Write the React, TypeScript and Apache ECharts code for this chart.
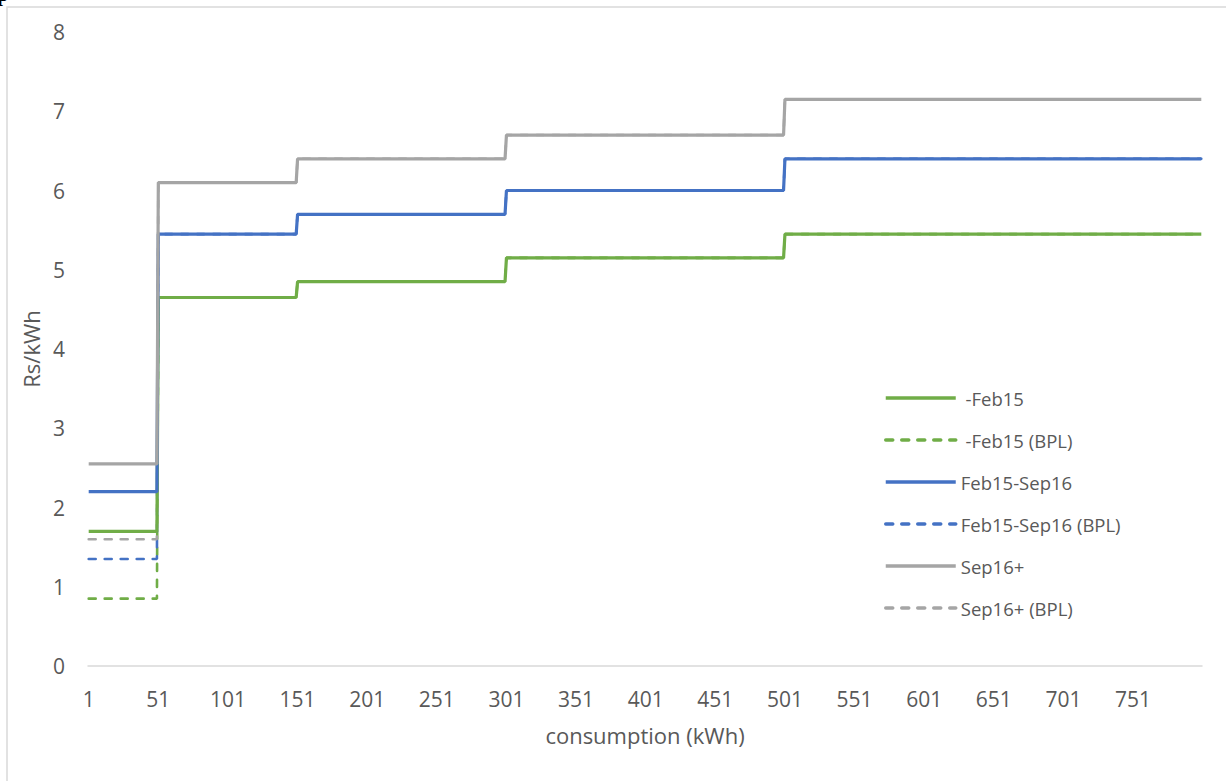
import React, { useEffect, useRef } from "react";
import * as echarts from "echarts";

// consumption categories 1..800 kWh
const X_MAX = 800;
const categories: string[] = Array.from({ length: X_MAX }, (_, i) => String(i + 1));

// tariff slabs (first kWh of each slab)
const slabStarts = [1, 51, 151, 301, 501];

// series names (legend order)
const seriesNames = [" -Feb15", " -Feb15 (BPL)", "Feb15-Sep16", "Feb15-Sep16 (BPL)", "Sep16+", "Sep16+ (BPL)"];

// Rs/kWh per slab
const feb15 = [1.7, 4.65, 4.85, 5.15, 5.45];
const feb15BPL = [0.85, 4.65, 4.85, 5.15, 5.45];
const feb15Sep16 = [2.2, 5.45, 5.7, 6.0, 6.4];
const feb15Sep16BPL = [1.35, 5.45, 5.7, 6.0, 6.4];
const sep16 = [2.55, 6.1, 6.4, 6.7, 7.15];
const sep16BPL = [1.6, 6.1, 6.4, 6.7, 7.15];

const yTicks = [0, 1, 2, 3, 4, 5, 6, 7, 8];

const GREEN = "#70AD47";
const BLUE = "#4472C4";
const GRAY = "#A5A5A5";

function slabPoints(rates: number[]): [string, number][] {
  const pts: [string, number][] = [];
  rates.forEach((r, i) => {
    const start = slabStarts[i];
    const end = i + 1 < slabStarts.length ? slabStarts[i + 1] - 1 : X_MAX;
    pts.push([String(start), r]);
    pts.push([String(end), r]);
  });
  return pts;
}

function mkSeries(name: string, rates: number[], color: string, dashed: boolean) {
  return {
    name,
    type: "line",
    data: slabPoints(rates),
    symbol: "none",
    showSymbol: false,
    z: dashed ? 1 : 2,
    lineStyle: {
      color,
      width: dashed ? 2.6 : 3.2,
      type: dashed ? [7, 9] : "solid",
      cap: dashed ? "round" : "butt",
    },
    itemStyle: { color },
  };
}

export default function App() {
  const ref = useRef<HTMLDivElement>(null);
  useEffect(() => {
    if (!ref.current) return;
    const chart = echarts.init(ref.current, undefined, { renderer: "svg" });
    const font = "'Open Sans', sans-serif";
    chart.setOption({
      animation: false,
      backgroundColor: "#ffffff",
      textStyle: { fontFamily: font },
      graphic: [
        {
          type: "rect",
          shape: { x: 7, y: 7, width: 1240, height: 800 },
          style: { fill: "none", stroke: "#d9d9d9", lineWidth: 1.5 },
          silent: true,
        },
        {
          type: "text",
          left: -3,
          top: -17,
          style: { text: "p", font: "bold 21px 'Liberation Serif', serif", fill: "#000" },
          silent: true,
        },
      ],
      grid: { left: 88, right: 24, top: 32, bottom: 115, containLabel: false },
      legend: {
        orient: "vertical",
        left: 884,
        top: 388,
        padding: 0,
        itemWidth: 70,
        itemHeight: 14,
        itemGap: 22,
        itemStyle: { opacity: 0, borderWidth: 0 },
        lineStyle: { width: 3.5 },
        textStyle: { fontFamily: font, fontSize: 18.5, color: "#595959", lineHeight: 20 },
        data: seriesNames,
      },
      xAxis: {
        type: "category",
        data: categories,
        boundaryGap: true,
        name: "consumption (kWh)",
        nameLocation: "middle",
        nameGap: 58,
        nameTextStyle: { fontFamily: font, fontSize: 22, color: "#595959" },
        axisLine: { show: true, lineStyle: { color: "#d9d9d9", width: 1.5 } },
        axisTick: { show: false },
        axisLabel: { interval: 49, margin: 22, fontFamily: font, fontSize: 21, color: "#595959" },
        splitLine: { show: false },
      },
      yAxis: {
        type: "value",
        min: yTicks[0],
        max: yTicks[yTicks.length - 1],
        interval: 1,
        name: "Rs/kWh",
        nameLocation: "middle",
        nameGap: 42,
        nameTextStyle: { fontFamily: font, fontSize: 22, color: "#595959" },
        axisLine: { show: false },
        axisTick: { show: false },
        splitLine: { show: false },
        axisLabel: { margin: 23, fontFamily: font, fontSize: 21, color: "#595959" },
      },
      series: [
        mkSeries(seriesNames[0], feb15, GREEN, false),
        mkSeries(seriesNames[1], feb15BPL, GREEN, true),
        mkSeries(seriesNames[2], feb15Sep16, BLUE, false),
        mkSeries(seriesNames[3], feb15Sep16BPL, BLUE, true),
        mkSeries(seriesNames[4], sep16, GRAY, false),
        mkSeries(seriesNames[5], sep16BPL, GRAY, true),
      ],
    });
    return () => chart.dispose();
  }, []);
  return (
    <div
      ref={ref}
      style={{ position: "fixed", left: 0, top: 0, width: 1226, height: 781, background: "#fff" }}
    />
  );
}
